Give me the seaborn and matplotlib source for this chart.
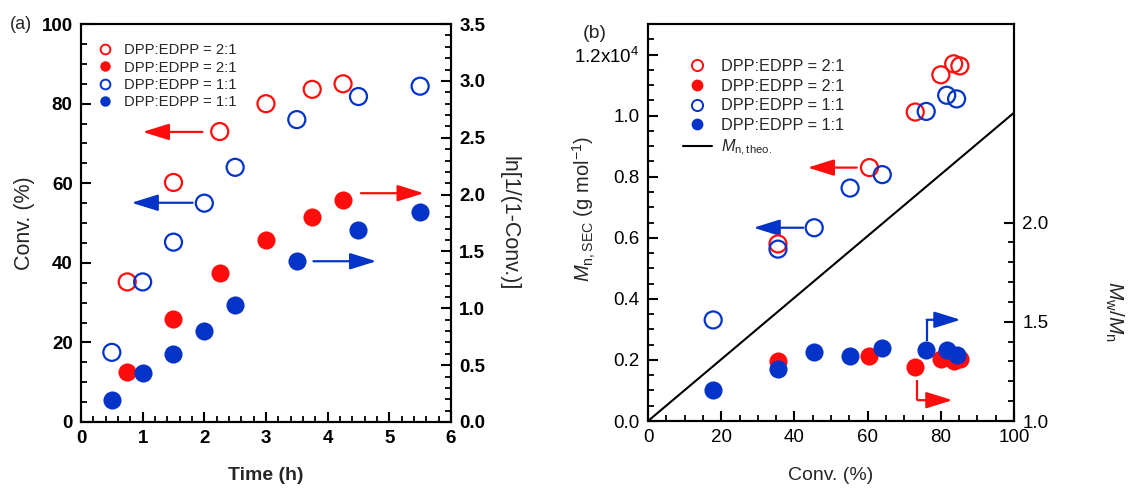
import matplotlib
matplotlib.use("Agg")
import matplotlib.pyplot as plt
from matplotlib.lines import Line2D
from matplotlib.ticker import MultipleLocator, FixedLocator, FuncFormatter
import numpy as np
import seaborn as sns

RED = "#ff0d0d"
BLUE = "#0433c8"

# (a) conversion and ln[1/(1-conv)] vs time
time_21 = [0.75, 1.5, 2.25, 3.0, 3.75, 4.25]
conv_21 = [35.2, 60.2, 73.0, 80.0, 83.6, 85.0]
ln_21 = [0.44, 0.91, 1.31, 1.60, 1.80, 1.95]

time_11 = [0.5, 1.0, 1.5, 2.0, 2.5, 3.5, 4.5, 5.5]
conv_11 = [17.5, 35.2, 45.2, 55.0, 64.0, 76.0, 81.8, 84.4]
ln_11 = [0.19, 0.43, 0.60, 0.80, 1.03, 1.42, 1.69, 1.85]

# (b) Mn,SEC (x1e4 g/mol) and Mw/Mn vs conversion
mconv_21 = [35.5, 60.5, 73.0, 80.0, 83.5, 85.2]
mn_21 = [0.58, 0.83, 1.012, 1.134, 1.17, 1.163]
pdi_21 = [1.30, 1.327, 1.27, 1.31, 1.30, 1.31]

mconv_11 = [17.8, 35.5, 45.4, 55.2, 64.0, 76.0, 81.6, 84.3]
mn_11 = [0.331, 0.563, 0.633, 0.763, 0.807, 1.014, 1.067, 1.055]
pdi_11 = [1.158, 1.263, 1.35, 1.328, 1.367, 1.36, 1.358, 1.333]

theo_conv = [0, 100]
theo_mn = [0, 1.01]

LEGEND_LABELS = ["DPP:EDPP = 2:1", "DPP:EDPP = 2:1", "DPP:EDPP = 1:1", "DPP:EDPP = 1:1"]

# arrows: (x_start, y_start, x_end, y_end, color)
arrows_a = [
    (1.97, 72.9, 1.0, 72.9, RED),
    (1.81, 55.1, 0.82, 55.1, BLUE),
    (4.54, 57.5, 5.56, 57.5, RED),
    (3.77, 40.4, 4.79, 40.4, BLUE),
]
arrows_b_left = [
    (57.0, 0.83, 43.6, 0.83, RED),
    (42.4, 0.633, 28.8, 0.633, BLUE),
]
# bent arrows on Mw/Mn axis: (x, y_start, y_corner, x_end, color)
arrows_b_bent = [
    (76.1, 1.405, 1.51, 85.4, BLUE),
    (73.6, 1.208, 1.105, 83.2, RED),
]

sns.set_style("ticks", {"xtick.direction": "in", "ytick.direction": "in",
                        "axes.axisbelow": False})
plt.rcParams["font.family"] = ["Liberation Sans", "DejaVu Sans"]
plt.rcParams["mathtext.fontset"] = "custom"
plt.rcParams["mathtext.rm"] = "Liberation Sans"
plt.rcParams["mathtext.it"] = "Liberation Sans:italic"
plt.rcParams["mathtext.bf"] = "Liberation Sans:bold"
plt.rcParams["axes.linewidth"] = 1.5
plt.rcParams["axes.edgecolor"] = "black"
plt.rcParams.update({
    "xtick.major.size": 7, "ytick.major.size": 7,
    "xtick.minor.size": 4, "ytick.minor.size": 4,
    "xtick.major.width": 1.5, "ytick.major.width": 1.5,
    "xtick.minor.width": 1.3, "ytick.minor.width": 1.3,
    "xtick.color": "black", "ytick.color": "black",
})


def style_ticks(ax):
    ax.set_axisbelow(False)
    ax.tick_params(which="major", direction="in", length=7, width=1.5, color="black")
    ax.tick_params(which="minor", direction="in", length=4, width=1.3, color="black")


def open_points(ax, x, y, color):
    sns.scatterplot(x=x, y=y, ax=ax, s=150, marker="o", facecolors="none",
                    edgecolor=color, linewidth=1.6, zorder=4)


def filled_points(ax, x, y, color):
    sns.scatterplot(x=x, y=y, ax=ax, s=170, marker="o", color=color,
                    edgecolor=color, linewidth=0, zorder=4)


def arrow(ax, x0, y0, x1, y1, color):
    ax.annotate("", xy=(x1, y1), xytext=(x0, y0),
                arrowprops=dict(arrowstyle="-|>,head_length=0.9,head_width=0.28",
                                color=color, lw=1.6, mutation_scale=18,
                                shrinkA=0, shrinkB=0))


fig = plt.figure(figsize=(11.28, 4.9), dpi=100)

# ---------- (a) ----------
ax1 = fig.add_axes([0.0718, 0.1388, 0.328, 0.812])
ax2 = ax1.twinx()

open_points(ax1, time_21, conv_21, RED)
open_points(ax1, time_11, conv_11, BLUE)
filled_points(ax2, time_21, ln_21, RED)
filled_points(ax2, time_11, ln_11, BLUE)

ax1.set_xlim(0, 6)
ax1.set_ylim(0, 100)
ax2.set_ylim(0, 3.5)
ax1.xaxis.set_major_locator(MultipleLocator(1))
ax1.xaxis.set_minor_locator(MultipleLocator(0.2))
ax1.yaxis.set_major_locator(MultipleLocator(20))
ax1.yaxis.set_minor_locator(MultipleLocator(5))
ax2.yaxis.set_major_locator(MultipleLocator(0.5))
ax2.yaxis.set_minor_locator(MultipleLocator(0.1))
ax2.yaxis.set_major_formatter(FuncFormatter(lambda v, p: f"{v:.1f}"))
for a in (ax1, ax2):
    style_ticks(a)
    for lbl in a.get_xticklabels() + a.get_yticklabels():
        lbl.set_fontsize(13.5)
        lbl.set_fontweight("bold")
ax1.tick_params(axis="both", which="major", pad=6)
ax2.tick_params(axis="y", which="major", pad=6)
ax1.set_xlabel("Time (h)", fontsize=14, fontweight="bold")
ax1.set_ylabel("Conv. (%)", fontsize=15.5)
ax2.set_ylabel("ln[1/(1-Conv.)]", fontsize=15.5, rotation=270)
ax1.xaxis.set_label_coords(0.5, -0.113)
ax1.yaxis.set_label_coords(-0.124, 0.5)
ax2.yaxis.set_label_coords(1.184, 0.5)

for x0, y0, x1, y1, c in arrows_a:
    arrow(ax1, x0, y0, x1, y1, c)

handles_a = [
    Line2D([], [], ls="", marker="o", ms=7, mfc="none", mec=RED, mew=1.4),
    Line2D([], [], ls="", marker="o", ms=7.5, mfc=RED, mec=RED, mew=0),
    Line2D([], [], ls="", marker="o", ms=7, mfc="none", mec=BLUE, mew=1.4),
    Line2D([], [], ls="", marker="o", ms=7.5, mfc=BLUE, mec=BLUE, mew=0),
]
ax2.legend(handles_a, LEGEND_LABELS, loc="upper left", bbox_to_anchor=(0.045, 0.952),
           frameon=False, fontsize=10.7, handlelength=1.0, handletextpad=0.8,
           labelspacing=0.23, borderpad=0, borderaxespad=0)
fig.text(0.009, 0.951, "(a)", fontsize=13, va="center", ha="left")

# ---------- (b) ----------
ax3 = fig.add_axes([0.5745, 0.1408, 0.3245, 0.810])
ax4 = ax3.twinx()

sns.lineplot(x=theo_conv, y=theo_mn, ax=ax3, color="black", lw=1.5, zorder=2)
open_points(ax3, mconv_21, mn_21, RED)
open_points(ax3, mconv_11, mn_11, BLUE)
filled_points(ax4, mconv_21, pdi_21, RED)
filled_points(ax4, mconv_11, pdi_11, BLUE)

ax3.set_xlim(0, 100)
ax3.set_ylim(0, 1.3)
ax4.set_ylim(1.0, 3.0)
ax3.xaxis.set_major_locator(MultipleLocator(20))
ax3.xaxis.set_minor_locator(MultipleLocator(5))
ax3.yaxis.set_major_locator(FixedLocator(np.arange(0, 1.21, 0.2)))
ax3.yaxis.set_minor_locator(FixedLocator(np.arange(0, 1.31, 0.05)))
ax3.yaxis.set_major_formatter(FuncFormatter(
    lambda v, p: r"1.2x10$^{4}$" if abs(v - 1.2) < 1e-6 else f"{v:.1f}"))
ax4.yaxis.set_major_locator(FixedLocator([1.0, 1.5, 2.0]))
ax4.yaxis.set_minor_locator(FixedLocator(np.arange(1.0, 2.01, 0.1)))
ax4.yaxis.set_major_formatter(FuncFormatter(lambda v, p: f"{v:.1f}"))
for a in (ax3, ax4):
    style_ticks(a)
    for lbl in a.get_xticklabels() + a.get_yticklabels():
        lbl.set_fontsize(13.5)
ax3.tick_params(axis="both", which="major", pad=6)
ax4.tick_params(axis="y", which="major", pad=6)
ax3.set_xlabel("Conv. (%)", fontsize=14)
ax3.set_ylabel(r"$M_{\mathrm{n,SEC}}$ (g mol$^{-1}$)", fontsize=14.5)
ax4.set_ylabel(r"$M_{\mathrm{w}}/M_{\mathrm{n}}$", fontsize=15, rotation=270)
ax3.xaxis.set_label_coords(0.5, -0.116)
ax3.yaxis.set_label_coords(-0.137, 0.534)
ax4.yaxis.set_label_coords(1.303, 0.275)

for x0, y0, x1, y1, c in arrows_b_left:
    arrow(ax3, x0, y0, x1, y1, c)
for x, y0, yc, x1, c in arrows_b_bent:
    ax4.plot([x, x], [y0, yc], color=c, lw=1.6, solid_capstyle="butt")
    arrow(ax4, x, yc, x1, yc, c)

labels_b = LEGEND_LABELS + [r"$M_{\mathrm{n,theo.}}$"]
handles_b = [
    Line2D([], [], ls="", marker="o", ms=8, mfc="none", mec=RED, mew=1.4),
    Line2D([], [], ls="", marker="o", ms=8.5, mfc=RED, mec=RED, mew=0),
    Line2D([], [], ls="", marker="o", ms=8, mfc="none", mec=BLUE, mew=1.4),
    Line2D([], [], ls="", marker="o", ms=8.5, mfc=BLUE, mec=BLUE, mew=0),
    Line2D([], [], color="black", lw=1.5),
]
ax4.legend(handles_b, labels_b, loc="upper left", bbox_to_anchor=(0.096, 0.912),
           frameon=False, fontsize=11.7, handlelength=1.75, handletextpad=0.55,
           labelspacing=0.29, borderpad=0, borderaxespad=0)
fig.text(0.517, 0.932, "(b)", fontsize=14, va="center", ha="left")

fig.savefig("out.png", dpi=100)
